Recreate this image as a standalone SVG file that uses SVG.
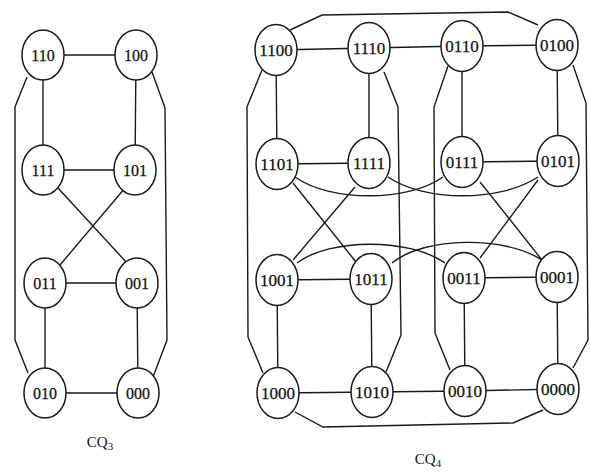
<svg xmlns="http://www.w3.org/2000/svg" width="590" height="475" viewBox="0 0 590 475">
<style>
.e{fill:#fff;stroke:#1a1a1a;stroke-width:1.5}
.t{font-family:"Liberation Serif","Times New Roman",serif;font-size:17px;fill:#111;stroke:#111;stroke-width:0.25;text-anchor:middle;dominant-baseline:central}
.t3{font-size:16px}
.c line,.c polyline,.c path{stroke:#1a1a1a;stroke-width:1.4;fill:none}
.cap{font-family:"Liberation Serif","Times New Roman",serif;font-size:15px;fill:#111;text-anchor:middle}
</style>
<g class="c" id="connectors">
<!-- CQ3 -->
<line x1="43" y1="55" x2="136" y2="55"/>
<line x1="43" y1="55" x2="43" y2="170"/>
<line x1="136" y1="55" x2="135" y2="170"/>
<line x1="43" y1="170" x2="135" y2="170"/>
<line x1="58" y1="188" x2="127" y2="263"/>
<line x1="125" y1="188" x2="60" y2="265"/>
<line x1="45" y1="283" x2="137" y2="283"/>
<line x1="45" y1="283" x2="45" y2="393"/>
<line x1="137" y1="283" x2="138" y2="393"/>
<line x1="45" y1="393" x2="138" y2="393"/>
<polyline points="27,77 15,107 15,340 28,373"/>
<polyline points="152,72 165,108 167,340 153,377"/>
<!-- CQ4 rows -->
<line x1="276" y1="50" x2="369" y2="48"/>
<line x1="369" y1="48" x2="462" y2="46"/>
<line x1="462" y1="46" x2="557" y2="45"/>
<line x1="276" y1="50" x2="277" y2="164"/>
<line x1="369" y1="48" x2="369" y2="163"/>
<line x1="462" y1="46" x2="462" y2="162"/>
<line x1="557" y1="45" x2="558" y2="161"/>
<line x1="277" y1="164" x2="369" y2="163"/>
<line x1="462" y1="162" x2="558" y2="161"/>
<line x1="277" y1="280" x2="371" y2="279"/>
<line x1="464" y1="278" x2="557" y2="277"/>
<line x1="277" y1="280" x2="278" y2="393"/>
<line x1="371" y1="279" x2="372" y2="392"/>
<line x1="464" y1="278" x2="465" y2="391"/>
<line x1="557" y1="277" x2="558" y2="389"/>
<line x1="278" y1="393" x2="372" y2="392"/>
<line x1="372" y1="392" x2="465" y2="391"/>
<line x1="465" y1="391" x2="558" y2="389"/>
<!-- crosses -->
<line x1="293" y1="183" x2="356" y2="262"/>
<line x1="355" y1="187" x2="293" y2="260"/>
<line x1="480" y1="182" x2="542" y2="260"/>
<line x1="538" y1="180" x2="480" y2="258"/>
<!-- curves -->
<path d="M295,177 C330,202 408,202 443,177"/>
<path d="M388,177 C425,202 500,202 538,177"/>
<path d="M297,263 C330,238 410,238 445,263"/>
<path d="M392,263 C425,236 505,236 542,260"/>
<!-- outer wraps -->
<polyline points="290,30 322,15 508,12 538,25"/>
<polyline points="295,412 323,427 513,423 543,410"/>
<polyline points="262,70 247,107 248,337 263,373"/>
<polyline points="573,65 586,103 588,340 573,368"/>
<polyline points="384,72 398,107 401,335 386,372"/>
<polyline points="448,66 434,107 435,333 450,370"/>
</g>
<g id="n110"><ellipse class="e" cx="43" cy="55" rx="21" ry="25"/><text class="t t3" x="43" y="55">110</text></g>
<g id="n100"><ellipse class="e" cx="136" cy="55" rx="21" ry="25"/><text class="t t3" x="136" y="55">100</text></g>
<g id="n111"><ellipse class="e" cx="43" cy="170" rx="21" ry="25"/><text class="t t3" x="43" y="170">111</text></g>
<g id="n101"><ellipse class="e" cx="135" cy="170" rx="21" ry="25"/><text class="t t3" x="135" y="170">101</text></g>
<g id="n011"><ellipse class="e" cx="45" cy="283" rx="21" ry="25"/><text class="t t3" x="45" y="283">011</text></g>
<g id="n001"><ellipse class="e" cx="137" cy="283" rx="21" ry="25"/><text class="t t3" x="137" y="283">001</text></g>
<g id="n010"><ellipse class="e" cx="45" cy="393" rx="21" ry="25"/><text class="t t3" x="45" y="393">010</text></g>
<g id="n000"><ellipse class="e" cx="138" cy="393" rx="21" ry="25"/><text class="t t3" x="138" y="393">000</text></g>
<text class="cap" x="100" y="447">CQ<tspan font-size="11" dy="3">3</tspan></text>
<g id="n1100"><ellipse class="e" cx="276" cy="50" rx="21" ry="25.5"/><text class="t" x="276" y="50">1100</text></g>
<g id="n1110"><ellipse class="e" cx="369" cy="48" rx="21" ry="25.5"/><text class="t" x="369" y="48">1110</text></g>
<g id="n0110"><ellipse class="e" cx="462" cy="46" rx="21" ry="25.5"/><text class="t" x="462" y="46">0110</text></g>
<g id="n0100"><ellipse class="e" cx="557" cy="45" rx="21" ry="25.5"/><text class="t" x="557" y="45">0100</text></g>
<g id="n1101"><ellipse class="e" cx="277" cy="164" rx="21" ry="25.5"/><text class="t" x="277" y="164">1101</text></g>
<g id="n1111"><ellipse class="e" cx="369" cy="163" rx="21" ry="25.5"/><text class="t" x="369" y="163">1111</text></g>
<g id="n0111"><ellipse class="e" cx="462" cy="162" rx="21" ry="25.5"/><text class="t" x="462" y="162">0111</text></g>
<g id="n0101"><ellipse class="e" cx="558" cy="161" rx="21" ry="25.5"/><text class="t" x="558" y="161">0101</text></g>
<g id="n1001"><ellipse class="e" cx="277" cy="280" rx="21" ry="25.5"/><text class="t" x="277" y="280">1001</text></g>
<g id="n1011"><ellipse class="e" cx="371" cy="279" rx="21" ry="25.5"/><text class="t" x="371" y="279">1011</text></g>
<g id="n0011"><ellipse class="e" cx="464" cy="278" rx="21" ry="25.5"/><text class="t" x="464" y="278">0011</text></g>
<g id="n0001"><ellipse class="e" cx="557" cy="277" rx="21" ry="25.5"/><text class="t" x="557" y="277">0001</text></g>
<g id="n1000"><ellipse class="e" cx="278" cy="393" rx="21" ry="25.5"/><text class="t" x="278" y="393">1000</text></g>
<g id="n1010"><ellipse class="e" cx="372" cy="392" rx="21" ry="25.5"/><text class="t" x="372" y="392">1010</text></g>
<g id="n0010"><ellipse class="e" cx="465" cy="391" rx="21" ry="25.5"/><text class="t" x="465" y="391">0010</text></g>
<g id="n0000"><ellipse class="e" cx="558" cy="389" rx="21" ry="25.5"/><text class="t" x="558" y="389">0000</text></g>
<text class="cap" x="428" y="464">CQ<tspan font-size="11" dy="3">4</tspan></text>
</svg>
